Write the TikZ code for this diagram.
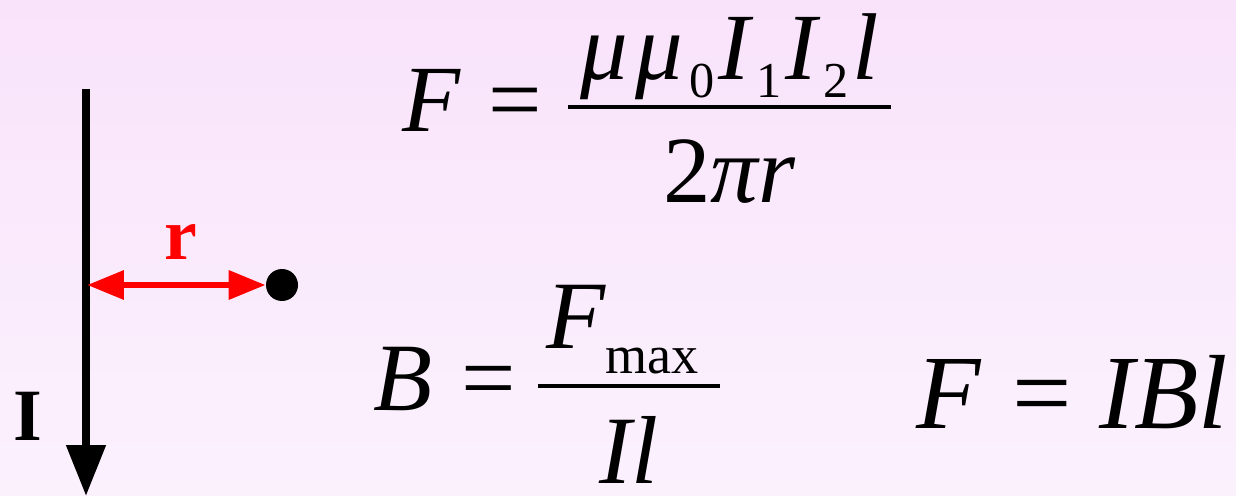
\documentclass[tikz,border=0pt]{standalone}
\usepackage{graphicx}
\usepackage{fontspec}
\setmainfont{Liberation Serif}
\usetikzlibrary{arrows.meta}

\definecolor{bgtop}{RGB}{249,227,251}
\definecolor{bgbot}{RGB}{251,241,253}

\newcommand{\lsub}[1]{\raisebox{-.18em}{\scalebox{.53}{\upshape #1}}\hspace{.04em}}
\newcommand{\lsubw}[1]{\raisebox{-.26em}{\scalebox{.56}{\upshape #1}}}
\newcommand{\gap}{\hspace{.07em}}
\newcommand{\eqsign}{\hspace{.3em}{\upshape =}}

\begin{document}
\begin{tikzpicture}[x=0.02cm, y=-0.02cm,
  formula/.style={inner sep=0pt, anchor=base west, font=\fontsize{54}{60}\selectfont\itshape},
  lbl/.style={inner sep=0pt, anchor=base, font=\fontsize{42}{50}\selectfont\bfseries},
  fracbar/.style={line width=0.08cm},
  wire/.style={line width=0.16cm, -{Triangle[length=1.02cm, width=0.76cm]}},
  dist/.style={red, line width=0.13cm, {Triangle[length=0.74cm, width=0.56cm]}-{Triangle[length=0.74cm, width=0.56cm]}}]

\useasboundingbox (0,0) rectangle (1236,496);
\shade[top color=bgtop, bottom color=bgbot] (0,0) rectangle (1236,496);

\coordinate (wiretop) at (86,89);
\coordinate (wireend) at (86,496);
\draw[wire] (wiretop) -- (wireend);
\node[lbl] (current) at (28,440) {I};

\node[circle, fill=black, inner sep=0pt, minimum size=0.64cm] (charge) at (282,285) {};
\coordinate (foot) at (87,285);
\draw[dist] (foot) -- (charge.west);
\node[lbl, red] (radius) at (181,260) {r};

% F = mu mu0 I1 I2 l / 2 pi r
\node[formula] (ampereL) at (402,132) {F\eqsign};
\node[formula, anchor=base] (ampereN) at (730,80) {μ\gap μ\gap\lsub{0}I\gap\lsub{1}I\gap\lsub{2}l};
\node[formula, anchor=base] (ampereD) at (729,203) {{\upshape 2}πr};
\draw[fracbar] (568,107) -- (891,107);

% B = Fmax / I l
\node[formula, font=\fontsize{55}{62}\selectfont\itshape] (fieldL) at (373,410) {B\eqsign};
\node[formula, font=\fontsize{55}{62}\selectfont\itshape] (fieldN) at (546,348) {F\lsubw{max}};
\node[formula, anchor=base, font=\fontsize{55}{62}\selectfont\itshape] (fieldD) at (629,483) {Il};
\draw[fracbar] (538,386) -- (720,386);

\node[formula, font=\fontsize{60}{66}\selectfont\itshape] (forceF) at (916,428) {F\eqsign\hspace{.26em}IBl};

\end{tikzpicture}
\end{document}
